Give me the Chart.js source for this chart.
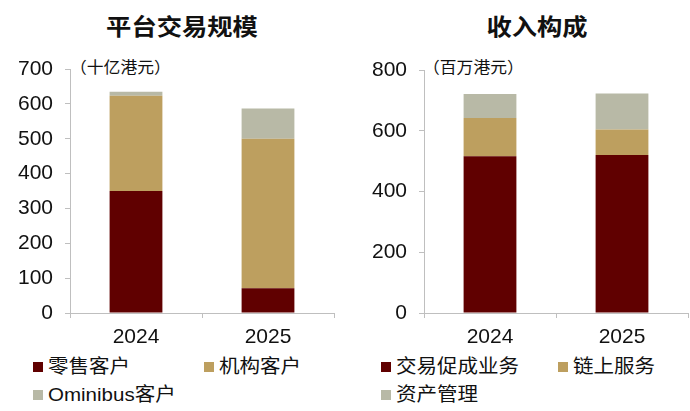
<!DOCTYPE html>
<html>
<head>
<meta charset="utf-8">
<script src="https://cdn.jsdelivr.net/npm/chart.js@4.4.1/dist/chart.umd.min.js"></script>
<style>
  body { margin: 0; width: 690px; height: 411px; background: #fff; position: relative; overflow: hidden;
         font-family: "Liberation Sans", "Noto Sans CJK SC", sans-serif; color: #111; }
  .title { position: absolute; top: 8px; width: 220px; text-align: center; font-size: 23px; font-weight: bold;
           font-family: "Noto Sans CJK SC", sans-serif; transform: scaleX(1.1); }
  .unit { position: absolute; top: 54px; font-size: 16px; font-family: "Noto Sans CJK SC", sans-serif;
          transform: scaleX(1.05); transform-origin: left center; }
  .box { position: absolute; top: 0; width: 345px; height: 350px; }
  .leg { position: absolute; font-size: 19px; line-height: 22px; white-space: nowrap;
         transform: scaleX(1.08); transform-origin: left center; }
  .sw { position: absolute; width: 10px; height: 10px; }
</style>
</head>
<body>
<div class="title" style="left:72px">平台交易规模</div>
<div class="title" style="left:427px">收入构成</div>
<div class="unit" style="left:70px">（十亿港元）</div>
<div class="unit" style="left:423px">（百万港元）</div>
<div class="box" style="left:0"><canvas id="volume"></canvas></div>
<div class="box" style="left:345px"><canvas id="revenue"></canvas></div>
<div id="legends"></div>

<script>
// Data
const years = ['2024', '2025'];

// 平台交易规模 (十亿港元)
const retail        = [350, 71];
const institutional = [273, 429];
const omnibus       = [12, 87];
const volumeTicks   = [0, 100, 200, 300, 400, 500, 600, 700];

// 收入构成 (百万港元)
const facilitation  = [516, 520];
const onchain       = [126, 84];
const assetMgmt     = [79, 119];
const revenueTicks  = [0, 200, 400, 600, 800];

const RED = '#600000', TAN = '#bd9f5f', GREY = '#b8b9a6', AXIS = '#bfbfbf';

Chart.defaults.font.family = '"Liberation Sans", "Noto Sans CJK SC", sans-serif';
Chart.defaults.color = '#111';

function stackedChart(canvasId, sets, ticks, axisWidth, pad) {
  return new Chart(document.getElementById(canvasId), {
    type: 'bar',
    data: {
      labels: years,
      datasets: sets.map(s => ({
        label: s.label, data: s.data, backgroundColor: s.color,
        borderWidth: 0, barPercentage: 0.4, categoryPercentage: 1,
      }))
    },
    options: {
      responsive: true,
      maintainAspectRatio: false,
      animation: false,
      layout: { padding: pad },
      scales: {
        x: {
          stacked: true,
          grid: { offset: true, drawOnChartArea: false, drawTicks: true, tickLength: 5, color: AXIS },
          border: { display: true, color: AXIS },
          ticks: { font: { size: 21 }, padding: 7, color: '#111' },
          afterFit: s => { s.height = 37; },
        },
        y: {
          stacked: true,
          min: ticks[0], max: ticks[ticks.length - 1],
          afterBuildTicks: s => { s.ticks = ticks.map(v => ({ value: v })); },
          grid: { drawOnChartArea: false, drawTicks: true, tickLength: 5, color: AXIS },
          border: { display: true, color: AXIS },
          ticks: { font: { size: 21 }, padding: 12, color: '#111' },
          afterFit: s => { s.width = axisWidth; },
        }
      },
      plugins: { legend: { display: false }, tooltip: { enabled: false } }
    }
  });
}

const volumeSets = [
  { label: '零售客户', data: retail, color: RED },
  { label: '机构客户', data: institutional, color: TAN },
  { label: 'Ominibus客户', data: omnibus, color: GREY },
];
const revenueSets = [
  { label: '交易促成业务', data: facilitation, color: RED },
  { label: '链上服务', data: onchain, color: TAN },
  { label: '资产管理', data: assetMgmt, color: GREY },
];

stackedChart('volume', volumeSets, volumeTicks, 70, { top: 69, right: 11, left: 0, bottom: 0 });
stackedChart('revenue', revenueSets, revenueTicks, 79, { top: 70, right: 2, left: 0, bottom: 0 });

// HTML legends (two columns, wrapped like the reference)
const legendSlots = [
  [volumeSets[0], 33, 367], [volumeSets[1], 204, 367], [volumeSets[2], 33, 395],
  [revenueSets[0], 381, 367], [revenueSets[1], 558, 367], [revenueSets[2], 381, 395],
];
const host = document.getElementById('legends');
legendSlots.forEach(([s, x, cy]) => {
  const sw = document.createElement('div');
  sw.className = 'sw';
  sw.style.cssText = `left:${x}px;top:${cy - 5}px;background:${s.color}`;
  const tx = document.createElement('div');
  tx.className = 'leg';
  tx.style.cssText = `left:${x + 15}px;top:${cy - 11}px`;
  tx.textContent = s.label;
  host.appendChild(sw);
  host.appendChild(tx);
});
</script>
</body>
</html>
